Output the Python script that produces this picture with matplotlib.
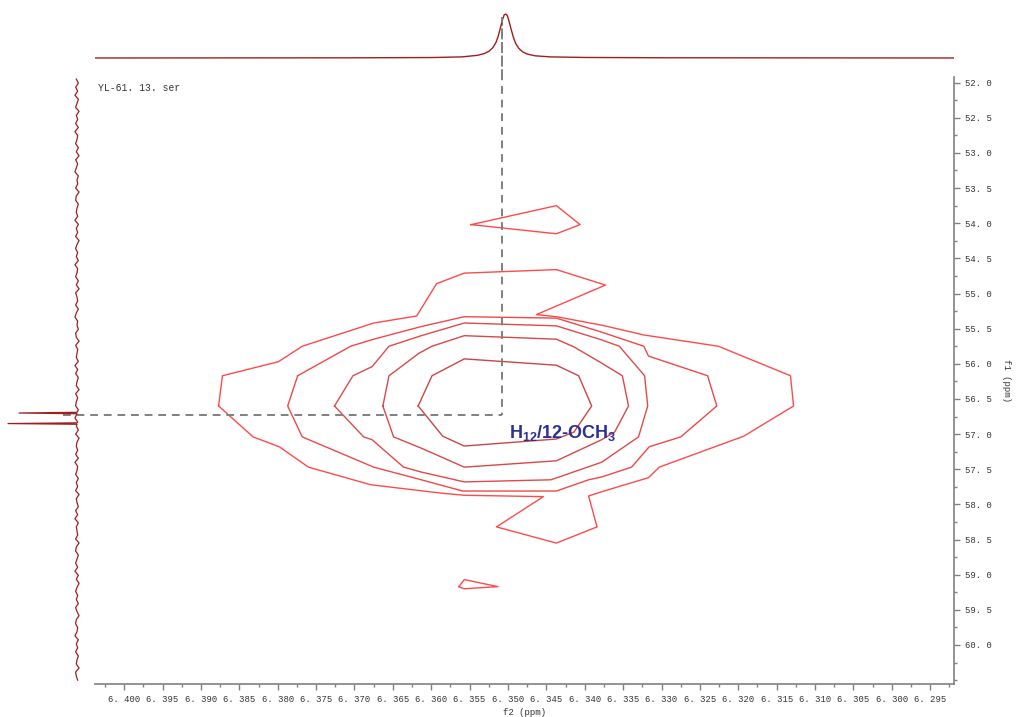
import numpy as np
import matplotlib
matplotlib.use('Agg')
import matplotlib.pyplot as plt
from matplotlib.ticker import MultipleLocator, FixedLocator, FuncFormatter

plt.rcParams['mathtext.fontset'] = 'custom'
plt.rcParams['mathtext.rm'] = 'Liberation Sans:bold'
plt.rcParams['mathtext.it'] = 'Liberation Sans:bold'
plt.rcParams['mathtext.bf'] = 'Liberation Sans:bold'

# ---- data (f2 = 1H ppm, f1 = 13C ppm) ----
level1 = [(6.3877, 56.60), (6.3872, 56.17), (6.3799, 55.97), (6.3768, 55.75),
          (6.3675, 55.42), (6.3619, 55.32), (6.3593, 54.86), (6.3557, 54.71),
          (6.3437, 54.66), (6.3373, 54.88), (6.3463, 55.30), (6.3437, 55.33),
          (6.3378, 55.45), (6.3323, 55.59), (6.3226, 55.75), (6.3132, 56.17),
          (6.3128, 56.60), (6.3193, 57.03), (6.3303, 57.47), (6.3317, 57.62),
          (6.3378, 57.82), (6.3395, 57.88), (6.3384, 58.32), (6.3437, 58.55),
          (6.3515, 58.32), (6.3454, 57.89), (6.3557, 57.87), (6.3587, 57.84),
          (6.3679, 57.72), (6.3760, 57.47), (6.3798, 57.18), (6.3832, 57.04)]
level2 = [(6.3774, 56.17), (6.3787, 56.60), (6.3768, 57.04), (6.3675, 57.47),
          (6.3613, 57.65), (6.3559, 57.81), (6.3437, 57.81), (6.3395, 57.65),
          (6.3378, 57.61), (6.3339, 57.47), (6.3316, 57.18), (6.3275, 57.04),
          (6.3228, 56.60), (6.3240, 56.17), (6.3317, 55.89), (6.3323, 55.75),
          (6.3378, 55.55), (6.3437, 55.35), (6.3557, 55.33), (6.3613, 55.47),
          (6.3675, 55.65), (6.3705, 55.75)]
level3 = [(6.3726, 56.60), (6.3702, 56.17), (6.3677, 56.04), (6.3655, 55.75),
          (6.3613, 55.60), (6.3557, 55.42), (6.3437, 55.46), (6.3378, 55.66),
          (6.3355, 55.75), (6.3322, 56.17), (6.3318, 56.60), (6.3330, 57.04),
          (6.3378, 57.40), (6.3444, 57.65), (6.3557, 57.68), (6.3613, 57.54),
          (6.3636, 57.47), (6.3677, 57.08), (6.3688, 57.04)]
level4 = [(6.3663, 56.60), (6.3655, 56.17), (6.3616, 55.85), (6.3599, 55.75),
          (6.3557, 55.60), (6.3437, 55.65), (6.3414, 55.76), (6.3378, 55.99),
          (6.3351, 56.17), (6.3343, 56.60), (6.3361, 56.97), (6.3378, 57.08),
          (6.3437, 57.38), (6.3557, 57.47), (6.3613, 57.20), (6.3649, 57.04)]
level5 = [(6.3617, 56.60), (6.3599, 56.17), (6.3557, 55.93), (6.3437, 56.02),
          (6.3408, 56.17), (6.3391, 56.60), (6.3414, 56.97), (6.3437, 57.07),
          (6.3557, 57.17), (6.3585, 57.03)]
island_top = [(6.3548, 54.02), (6.3437, 53.75), (6.3406, 54.02), (6.3437, 54.15)]
island_bottom = [(6.3564, 59.17), (6.3557, 59.07), (6.3513, 59.17), (6.3557, 59.20)]

contours = [level1, level2, level3, level4, level5, island_top, island_bottom]
contour_colors = ['#ff4a4a', '#f04848', '#e04a4a', '#d84848', '#cc4444', '#ff4a4a', '#ff4a4a']

# 1H projection (top)
proj_f2 = [6.4038, 6.3700, 6.3600, 6.3560, 6.3540, 6.3531, 6.3525, 6.3520, 6.3516,
           6.3513, 6.3510, 6.3507, 6.3505, 6.3503, 6.3501, 6.3499, 6.3496, 6.3493,
           6.3490, 6.3486, 6.3481, 6.3475, 6.3465, 6.3445, 6.3400, 6.3300, 6.2919]
proj_f2_int = [0.0, 0.004, 0.01, 0.025, 0.06, 0.10, 0.15, 0.23, 0.34,
               0.48, 0.68, 0.88, 0.98, 1.0, 0.97, 0.86, 0.66, 0.47,
               0.33, 0.22, 0.14, 0.09, 0.05, 0.025, 0.012, 0.005, 0.0]

# 13C projection (left): baseline jitter plus two narrow spikes
proj_f1_noise = [0.01, -0.02, 0.02, -0.01, 0.03, -0.02, 0.00, 0.02, -0.03, 0.01,
                 -0.01, 0.02, -0.02, 0.03, -0.01, 0.00, 0.02, -0.02, 0.01, -0.03,
                 0.02, -0.01, 0.01, 0.03, -0.02, 0.00, -0.01, 0.02, -0.03, 0.01,
                 0.02, -0.02, 0.00, 0.01, -0.01, 0.03, -0.02, 0.01, -0.01, 0.02,
                 -0.03, 0.00, 0.02, -0.01, 0.01, -0.02, 0.03, -0.01, 0.00, 0.02,
                 -0.02, 0.01, -0.03, 0.02, 0.00, -0.01, 0.02, -0.02, 0.01, 0.03,
                 -0.01, 0.00, -0.02, 0.02, 0.01, -0.03, 0.02, -0.01, 0.00, 0.01,
                 -0.02, 0.03, -0.01, 0.02, -0.02, 0.00, 0.01, -0.03, 0.02, -0.01,
                 0.01, 0.02, -0.02, 0.00, 0.03, -0.01, 0.01, -0.02, 0.02, -0.03,
                 0.00, 0.01, -0.01, 0.02, -0.02, 0.03, -0.01, 0.00, 0.02, -0.02,
                 0.01, -0.01, 0.02, -0.03, 0.01, 0.00, -0.02, 0.02, -0.01, 0.03,
                 -0.02, 0.01, 0.00, -0.01, 0.02, -0.03, 0.01, 0.02, -0.02, 0.00,
                 0.02, -0.01, 0.03, -0.02, 0.01, -0.03, 0.00, 0.02, -0.01, 0.01,
                 -0.02, 0.02, 0.00, -0.03, 0.01, 0.02, -0.01, 0.00, 0.03, -0.02,
                 0.01, -0.01, 0.02, -0.02, 0.00, 0.01, -0.03, 0.02, 0.01, -0.01]
spike_f1 = [56.70, 56.85]
spike_int = [0.84, 1.0]

cross_f2, cross_f1 = 6.3508, 56.73
guide_top_f1 = 51.08
guide_left_f2 = 6.4080

label_text = r'H$_{12}$/12-OCH$_3$'
label_pos = (6.3429, 56.99)

f2_lim = (6.4038, 6.2919)
f1_lim = (60.555, 51.92)
f2_major = [6.400 - 0.005 * i for i in range(22)]
f1_major = [52.0 + 0.5 * i for i in range(17)]

# ---- figure ----
fig = plt.figure(figsize=(10.17, 7.17), dpi=100)
W, H = 1017.0, 717.0
ax = fig.add_axes([95 / W, 1 - 684 / H, (954 - 95) / W, (684 - 77) / H])
ax_top = fig.add_axes([95 / W, 1 - 77 / H, (954 - 95) / W, 77 / H], sharex=ax)
ax_left = fig.add_axes([0, 1 - 684 / H, 95 / W, (684 - 77) / H], sharey=ax)

spec_color = '#a01e1e'
grey = '#808080'
txt_grey = '#333333'

for poly, c in zip(contours, contour_colors):
    xs = [p[0] for p in poly] + [poly[0][0]]
    ys = [p[1] for p in poly] + [poly[0][1]]
    ax.plot(xs, ys, color=c, lw=1.0)

ax.set_xlim(*f2_lim)
ax.set_ylim(*f1_lim)

# guide lines
ax.plot([cross_f2, cross_f2], [guide_top_f1, cross_f1], ls=(0, (4, 3)), color=grey,
        lw=1.4, clip_on=False, zorder=5)
ax.plot([guide_left_f2, cross_f2], [cross_f1, cross_f1], ls=(0, (4, 3)), color=grey,
        lw=1.4, clip_on=False, zorder=5)

ax.text(label_pos[0], label_pos[1], label_text, color='#2e3092', fontsize=13,
        fontweight='bold', family='Liberation Sans', ha='center', va='center')
ax.text(0.003, 0.99, 'YL-61. 13. ser', transform=ax.transAxes, ha='left', va='top',
        family='Liberation Mono', fontsize=7, color=txt_grey)

for s in ['top', 'left']:
    ax.spines[s].set_visible(False)
for s in ['bottom', 'right']:
    ax.spines[s].set_color(grey)
    ax.spines[s].set_linewidth(1.2)

ax.yaxis.tick_right()
ax.yaxis.set_label_position('right')
ax.xaxis.set_major_locator(FixedLocator(f2_major))
ax.xaxis.set_minor_locator(MultipleLocator(0.0025))
ax.yaxis.set_major_locator(FixedLocator(f1_major))
ax.yaxis.set_minor_locator(MultipleLocator(0.25))
ax.xaxis.set_major_formatter(FuncFormatter(lambda v, p: f'{v:.3f}'.replace('.', '. ')))
ax.yaxis.set_major_formatter(FuncFormatter(lambda v, p: f'{v:.1f}'.replace('.', '. ')))
ax.tick_params(which='major', length=4, width=1, color=grey, direction='out', pad=4)
ax.tick_params(which='minor', length=2, width=1, color=grey, direction='out')
for lab in ax.get_xticklabels() + ax.get_yticklabels():
    lab.set_fontfamily('Liberation Mono')
    lab.set_fontsize(6.4)
    lab.set_color(txt_grey)
ax.set_xlabel('f2 (ppm)', family='Liberation Mono', fontsize=6.5, color=txt_grey, labelpad=3)
ax.set_ylabel('f1 (ppm)', family='Liberation Mono', fontsize=6.5, color=txt_grey,
              rotation=270, labelpad=14)

# top projection
ax_top.plot(proj_f2, proj_f2_int, color=spec_color, lw=1.0)
ax_top.set_ylim(-0.4326, 1.319)
ax_top.plot([cross_f2, cross_f2], [-0.4326, 0.93], ls=(0, (4, 3)), color=grey, lw=1.4)
ax_top.axis('off')

# left projection
f1_pts = np.linspace(51.95, 60.50, len(proj_f1_noise))
left_y = list(f1_pts)
left_x = list(proj_f1_noise)
for sf, si in zip(spike_f1, spike_int):
    left_y += [sf - 0.01, sf, sf + 0.01]
    left_x += [0.0, si, 0.0]
order = np.argsort(left_y)
ax_left.plot(np.array(left_x)[order], np.array(left_y)[order], color=spec_color, lw=0.9)
ax_left.set_xlim(1.116, -0.261)
ax_left.axis('off')

fig.savefig('out.png', dpi=100)
